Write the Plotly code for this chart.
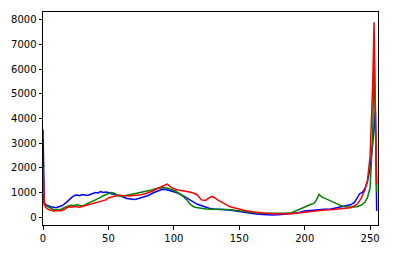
import plotly.graph_objects as go

# Histogram samples (bin index -> pixel count) for each channel
blue_x = [0,1,2,4,6,8,10,12,14,16,18,20,22,24,26,28,30,32,34,36,38,40,42,44,46,48,50,52,55,58,61,64,67,70,73,76,80,84,88,91,94,97,100,103,106,109,112,115,118,121,124,127,130,135,140,145,150,155,160,165,170,175,180,185,190,195,200,205,210,215,220,225,230,235,238,240,242,244,246,248,250,252,253,254,255]
blue_y = [3550,600,500,450,420,400,380,420,450,520,600,700,800,880,900,870,920,900,880,920,950,1000,980,1040,1000,1020,1000,950,920,880,830,760,730,720,760,800,870,980,1080,1130,1120,1080,1040,980,900,800,700,600,520,470,400,360,330,320,300,270,220,180,150,120,100,90,100,120,140,180,250,280,300,320,330,380,440,500,600,800,950,1000,1150,1450,2000,3000,3800,4300,250]

green_x = [0,1,2,4,6,8,10,12,14,16,18,20,22,24,26,28,30,32,34,36,38,40,42,44,46,48,50,52,54,56,58,60,62,65,68,71,74,77,80,83,86,89,92,95,98,101,104,107,110,113,116,120,125,130,135,140,145,150,155,160,165,170,175,180,185,190,195,198,201,204,207,209,211,213,216,219,222,225,228,231,234,237,240,243,246,248,250,252,253,254,255]
green_y = [900,520,480,420,350,310,300,300,320,380,430,460,480,470,500,480,450,500,550,600,650,700,720,800,870,920,960,1000,980,920,860,850,880,900,930,960,1000,1020,1060,1100,1150,1170,1200,1180,1120,1060,960,850,700,500,400,360,330,320,330,310,290,250,220,190,170,160,150,150,160,180,300,380,440,500,560,700,930,820,750,680,600,520,460,420,400,410,420,480,600,800,1200,3500,6500,4000,1000]

red_x = [0,1,2,4,6,8,10,12,14,16,18,20,22,24,26,28,30,32,34,36,38,40,42,44,46,48,50,52,54,56,58,60,63,66,69,72,75,78,81,84,87,90,93,95,97,100,103,106,109,112,115,118,121,124,127,129,131,134,137,140,143,146,150,155,160,165,170,175,180,185,190,195,200,205,210,215,220,225,230,235,240,243,246,248,250,252,253,254,255]
red_y = [2000,500,400,320,280,250,260,250,260,300,380,420,400,430,420,400,430,460,500,530,560,580,600,640,680,700,780,820,840,860,900,880,860,860,880,890,910,950,1000,1060,1150,1230,1300,1340,1250,1150,1100,1060,1050,1020,980,900,700,680,780,840,800,680,600,500,420,380,320,260,220,180,160,140,130,130,140,170,200,250,280,290,300,330,340,380,520,750,1100,1500,2500,5500,7900,4000,1330]

x_ticks = [0, 50, 100, 150, 200, 250]
y_ticks = [0, 1000, 2000, 3000, 4000, 5000, 6000, 7000, 8000]

fig = go.Figure()
for xs, ys, col in [(blue_x, blue_y, "#0000ff"), (green_x, green_y, "#008000"), (red_x, red_y, "#ff0000")]:
    fig.add_trace(go.Scatter(x=xs, y=ys, mode="lines", line=dict(color=col, width=1.5), showlegend=False))

axis_common = dict(showgrid=False, zeroline=False, showline=True, linecolor="black", linewidth=1,
                   mirror=True, ticks="outside", ticklen=3.5, tickwidth=1, tickcolor="black",
                   tickfont=dict(family="DejaVu Sans", size=10, color="black"))
fig.update_xaxes(range=[0, 256], tickvals=x_ticks, **axis_common)
fig.update_yaxes(range=[-318, 8318], tickvals=y_ticks, **axis_common)
fig.update_layout(width=404, height=255, margin=dict(l=43, r=26, t=11, b=27),
                  plot_bgcolor="white", paper_bgcolor="white")
fig.write_html("out.html")
